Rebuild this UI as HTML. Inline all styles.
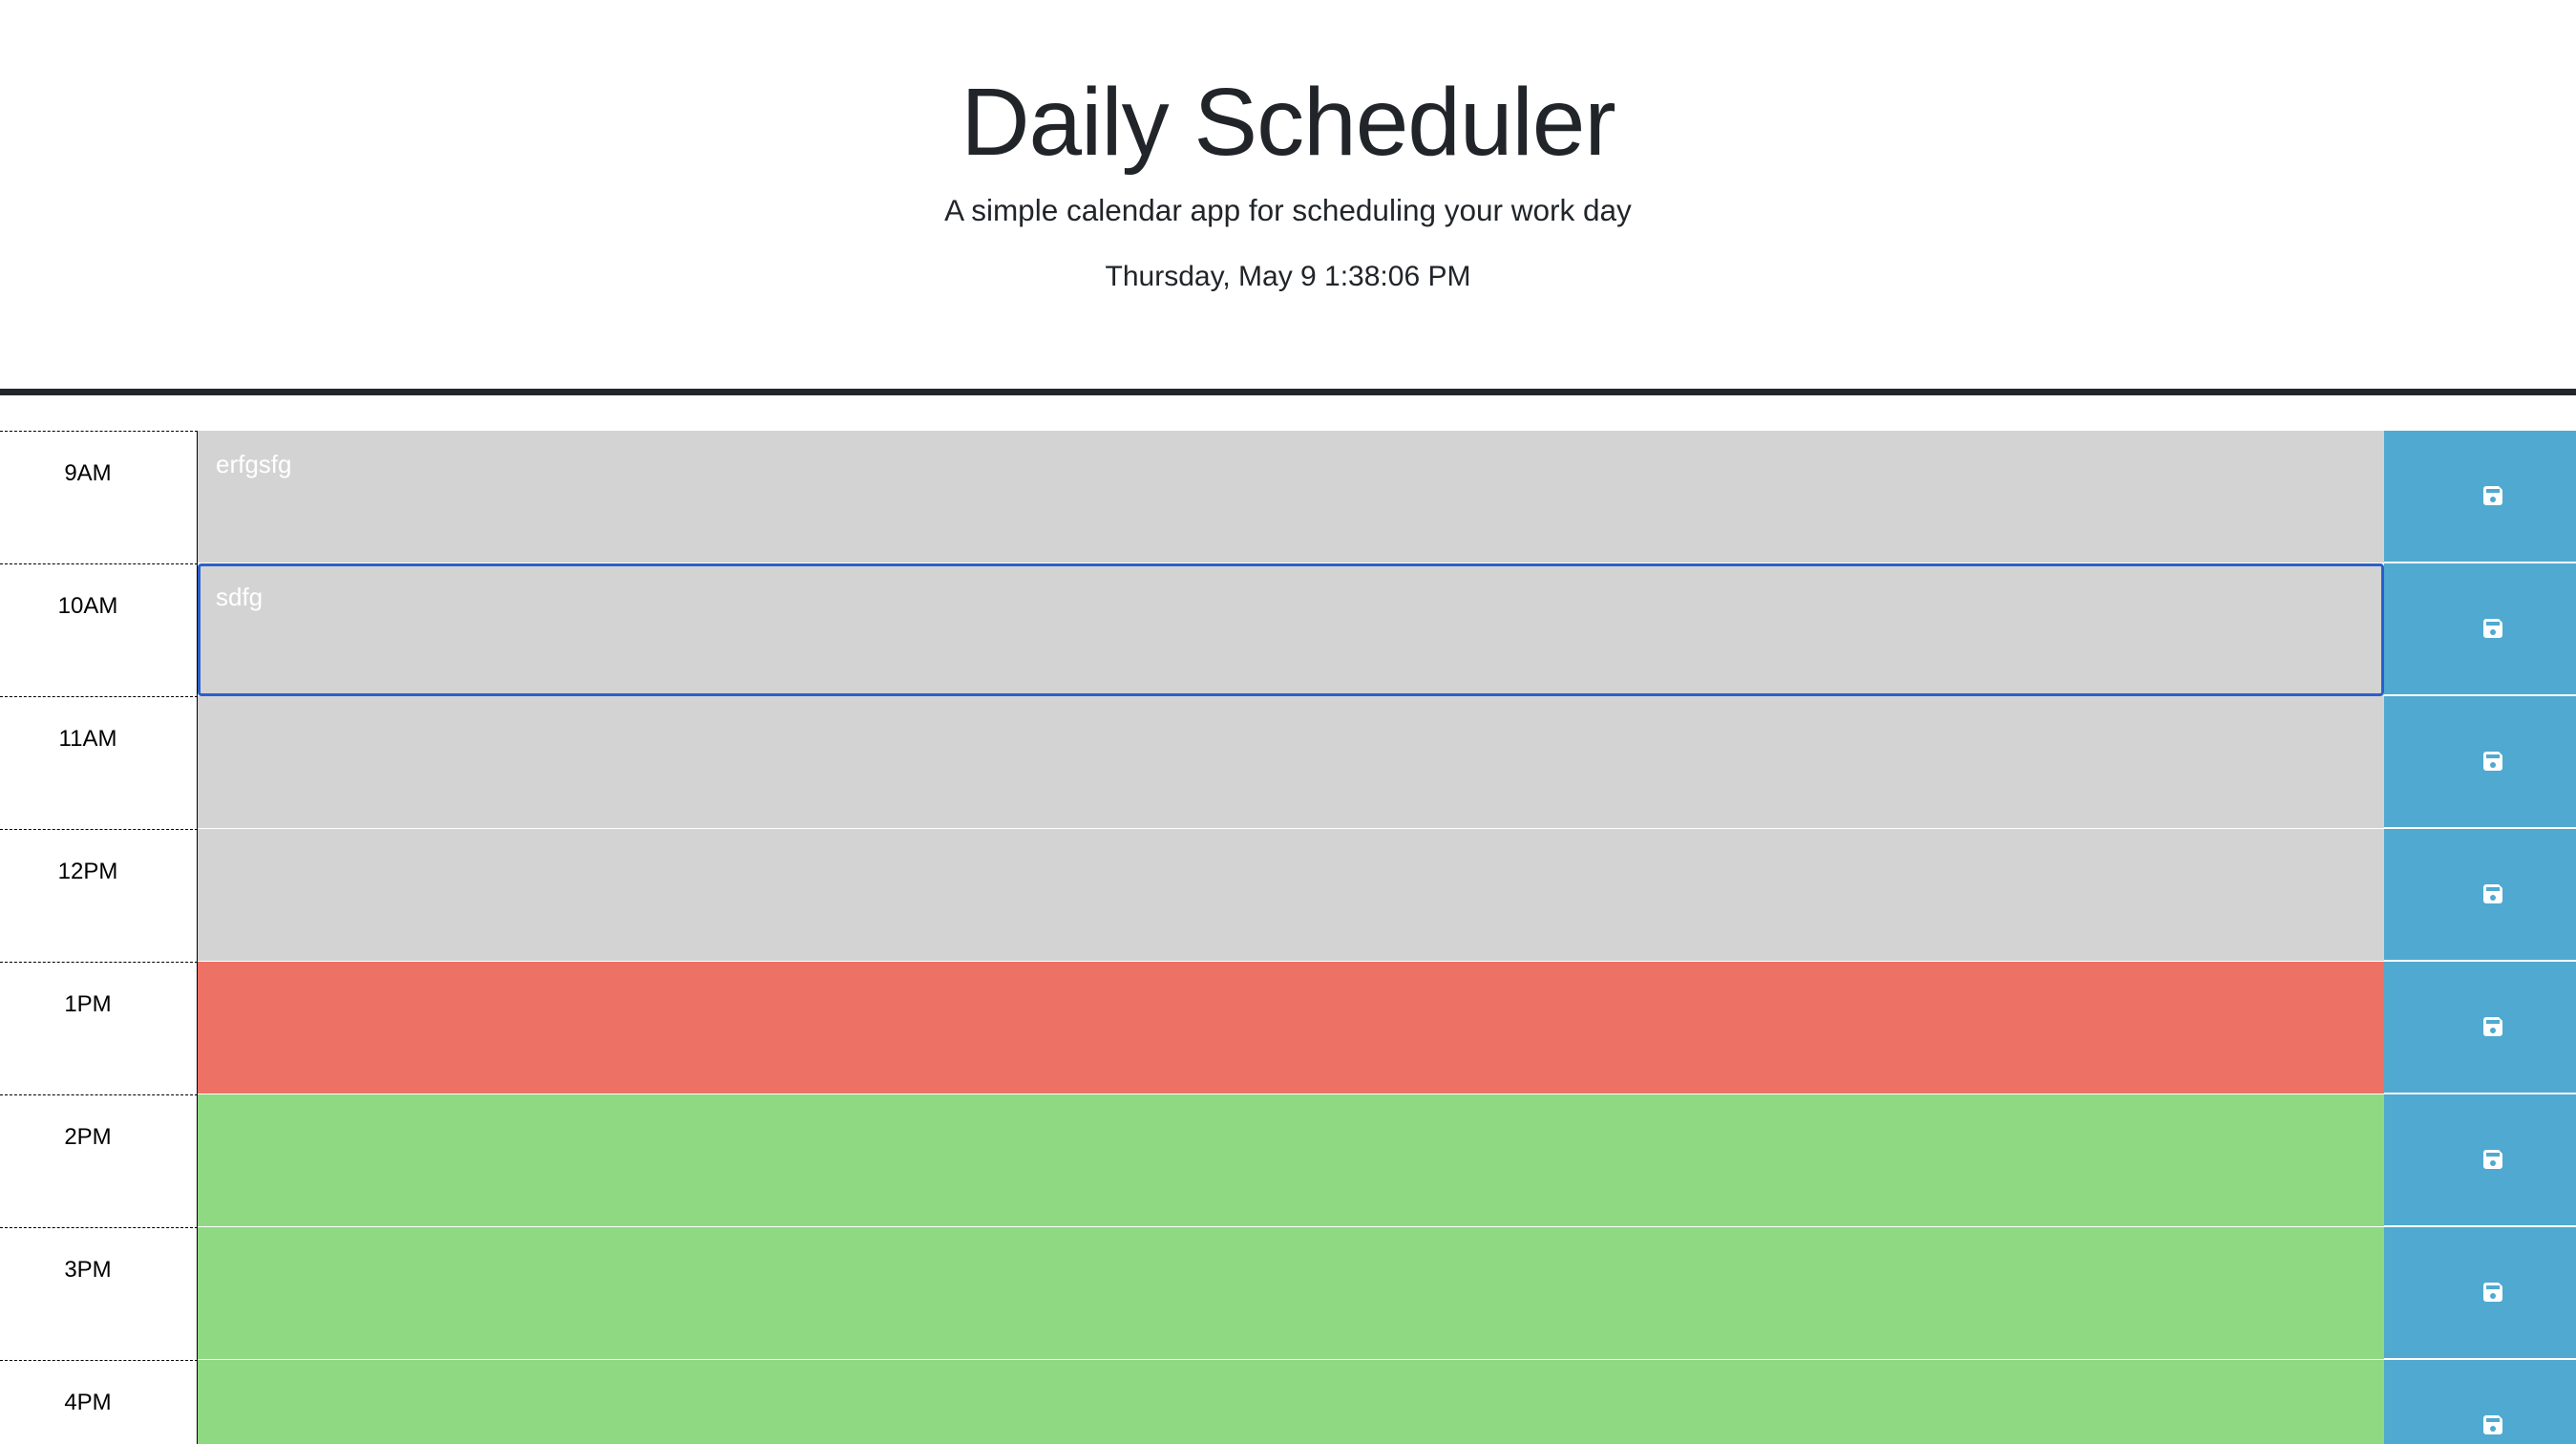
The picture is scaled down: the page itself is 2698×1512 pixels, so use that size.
<!DOCTYPE html>
<html style="overflow:hidden;height:1512px"><head><meta charset="utf-8"><style>
body{margin:0;width:2698px;height:1512px;overflow:hidden;background:#fff;font-family:"Liberation Sans",sans-serif;position:relative}
.t{position:absolute;left:0;width:2698px;text-align:center;color:#212529;white-space:nowrap}
#title{top:68px;font-size:100px;line-height:120px;letter-spacing:-1px}
#sub{top:200px;font-size:31.5px;line-height:40px}
#date{top:270px;font-size:30px;line-height:40px}
#bar{position:absolute;left:0;top:407px;width:2698px;height:7px;background:#222529}
.row{position:absolute;left:0;width:2698px;height:139px}
.hour{position:absolute;left:0;top:0;width:207px;height:139px;border-top:1px dashed #000;border-right:1px solid #000;box-sizing:border-box;text-align:center;font-size:24px;padding:30px 22px 0 0;color:#000}
.desc{position:absolute;left:207px;top:0;width:2290px;height:139px;box-sizing:border-box;border-bottom:1px solid #fff;color:#fff;font-size:26px;padding:20px 19px}
.past{background:#d3d3d3}.present{background:#ee7165}.future{background:#8fd983}
.focus{border:3px solid #2a5fcc;border-radius:4px;padding:17px 16px}
.btn{position:absolute;left:2497px;top:0;width:201px;height:139px;background:#4fa9d0;border-bottom:2px solid #fff;box-sizing:border-box}
.btn svg{position:absolute;left:103px;top:57px}
</style></head><body>
<div class="t" id="title">Daily Scheduler</div>
<div class="t" id="sub">A simple calendar app for scheduling your work day</div>
<div class="t" id="date">Thursday, May 9 1:38:06 PM</div>
<div id="bar"></div>
<div id="rows"></div>
<script>
const hours=["9AM","10AM","11AM","12PM","1PM","2PM","3PM","4PM"];
const states=["past","past","past","past","present","future","future","future"];
const notes=["erfgsfg","sdfg","","","","","",""];
const c=document.getElementById('rows');
hours.forEach((h,i)=>{
 const r=document.createElement('div');r.className='row';r.style.top=(451+i*139)+'px';
 if(i===hours.length-1){r.style.height=(1512-451-i*139)+'px';r.style.overflow='hidden';}
 
 
 const hd=document.createElement('div');hd.className='hour';hd.textContent=h;
 
 
 const d=document.createElement('div');d.className='desc '+states[i]+(i===1?' focus':'');d.textContent=notes[i];
 
 
 const b=document.createElement('div');b.className='btn';
 
 
 b.innerHTML='<svg width="22" height="22" viewBox="0 0 22 22"><path d="M3 1h14l4 4v13a3 3 0 0 1-3 3H4a3 3 0 0 1-3-3V4a3 3 0 0 1 3-3z" fill="#fff"/><rect x="4" y="4" width="14" height="4" fill="#4fa9d0"/><circle cx="11" cy="15" r="3" fill="#4fa9d0"/></svg>';
 r.appendChild(hd);r.appendChild(d);r.appendChild(b);c.appendChild(r);
});
</script>
</body></html>
